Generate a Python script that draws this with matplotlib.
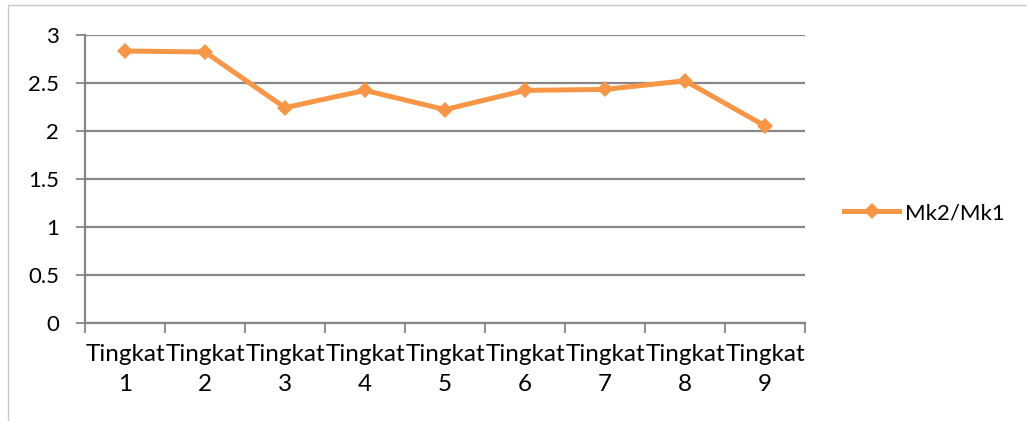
import matplotlib.pyplot as plt
from matplotlib.patches import Rectangle

plt.rcParams['font.family'] = ['Lato', 'DejaVu Sans']

categories = ['Tingkat\n1', 'Tingkat\n2', 'Tingkat\n3', 'Tingkat\n4', 'Tingkat\n5',
              'Tingkat\n6', 'Tingkat\n7', 'Tingkat\n8', 'Tingkat\n9']
ratio = [2.83, 2.82, 2.24, 2.42, 2.22, 2.42, 2.43, 2.52, 2.05]
yticks = [0, 0.5, 1, 1.5, 2, 2.5, 3]
ytick_labels = ['0', '0.5', '1', '1.5', '2', '2.5', '3']

orange = '#F79646'
grid_grey = '#868686'

W, H = 1027, 421
fig = plt.figure(figsize=(W / 100, H / 100), dpi=100)

# chart frame (light border, cut at right/bottom)
fig.patches.append(Rectangle((8 / W, -0.1), 1.2, 1 - 5 / H + 0.1, transform=fig.transFigure,
                             fill=False, edgecolor='#c8c8c8', linewidth=1.0))

ax = fig.add_axes([85 / W, 1 - 322.7 / H, 720 / W, 288 / H])

x = list(range(len(categories)))
ax.plot(x, ratio, color=orange, linewidth=3.6, marker='D', markersize=8.5,
        markeredgewidth=0, label='Mk2/Mk1', zorder=3)

ax.set_xlim(-0.5, len(categories) - 0.5)
ax.set_ylim(0, 3)
ax.set_yticks(yticks)
ax.set_yticklabels(ytick_labels)

# category boundaries as major ticks, labels on minor ticks
ax.set_xticks([i - 0.5 for i in range(len(categories) + 1)])
ax.set_xticklabels([])
ax.set_xticks(x, minor=True)
ax.set_xticklabels(categories, minor=True, linespacing=1.55)
ax.tick_params(axis='x', which='major', length=7, width=1.3, color=grid_grey, direction='out')
ax.tick_params(axis='x', which='minor', length=0, pad=15, labelsize=17.5)
ax.tick_params(axis='y', length=6.5, width=1.3, color=grid_grey, pad=12, labelsize=16)

ax.yaxis.grid(True, color=grid_grey, linewidth=1.6)
ax.set_axisbelow(True)
for side in ['top', 'right']:
    ax.spines[side].set_visible(False)
for side in ['left', 'bottom']:
    ax.spines[side].set_color(grid_grey)
    ax.spines[side].set_linewidth(1.6)

fig.legend(loc='center left', bbox_to_anchor=(835 / W, 1 - 213 / H), frameon=False,
           fontsize=16, handlelength=2.5, handletextpad=0.25, borderaxespad=0)

fig.savefig('out.png', dpi=100)
